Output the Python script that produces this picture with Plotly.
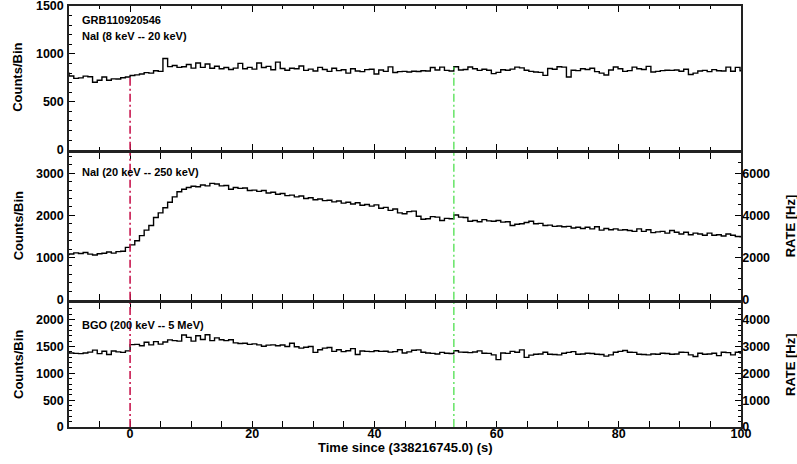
import numpy as np
import plotly.graph_objects as go

# ---------------- data ----------------
bin_width = 0.768          # s
first_bin_index = -14      # first bin starts at first_bin_index * bin_width
trigger_time = 0.0
end_time = 53.0
x_range = [-10, 100]
rate_factor = 2.0

grb_name = "GRB110920546"
label_nai_low = "NaI (8 keV -- 20 keV)"
label_nai_high = "NaI (20 keV -- 250 keV)"
label_bgo = "BGO (200 keV -- 5 MeV)"
x_title = "Time since (338216745.0) (s)"
y_title = "Counts/Bin"
rate_title = "RATE [Hz]"

nai_low = [
    800, 770, 745, 750, 768, 762, 705, 725, 760, 725, 740, 738, 752, 760,
    775, 782, 790, 805, 800, 825, 818, 952, 868, 880, 860, 866, 890, 852,
    905, 860, 895, 850, 872, 846, 858, 838, 852, 902, 845, 860, 842, 905,
    858, 870, 835, 915, 848, 830, 850, 845, 875, 828, 842, 822, 860, 838,
    818, 850, 826, 835, 800, 845, 822, 815, 836, 840, 790, 832, 818, 865,
    806, 815, 818, 812, 820, 816, 825, 822, 858, 832, 862, 828, 822, 866,
    832, 838, 864, 845, 828, 840, 830, 795, 808, 835, 830, 842, 862, 855,
    830, 818, 812, 808, 776, 848, 840, 866, 862, 760, 830, 826, 845, 838,
    850, 815, 800, 780, 832, 864, 845, 818, 826, 862, 845, 838, 870, 812,
    818, 826, 830, 828, 832, 820, 840, 785, 800, 822, 828, 815, 836, 825,
    822, 862, 820, 860, 825,
]

nai_high = [
    1070, 1085, 1110, 1095, 1120, 1080, 1060, 1090, 1100, 1130, 1105, 1140, 1150, 1240,
    1300, 1400, 1520, 1650, 1760, 1950, 2060, 2180, 2310, 2440, 2560, 2620, 2660, 2690,
    2680, 2720, 2700, 2760, 2745, 2700, 2710, 2620, 2660, 2640, 2650, 2590, 2600, 2570,
    2590, 2530, 2550, 2500, 2520, 2470, 2480, 2440, 2460, 2400, 2420, 2370, 2390, 2350,
    2360, 2320, 2340, 2290, 2310, 2270, 2300, 2240, 2260, 2220, 2250, 2170, 2190, 2120,
    2150, 2060, 2040, 2090, 2100, 1980, 1910, 1920, 1970, 1960, 1880, 1930, 1920, 2010,
    1960, 1950, 1860, 1880, 1850, 1900, 1870, 1860, 1880, 1840, 1850, 1760, 1790, 1800,
    1830, 1860, 1800, 1810, 1760, 1770, 1740, 1750, 1730, 1740, 1700, 1720, 1690, 1720,
    1680, 1730, 1650, 1690, 1660, 1680, 1650, 1660, 1640, 1620, 1680, 1620, 1660, 1590,
    1610, 1620, 1580, 1640, 1600, 1560, 1600, 1540, 1580, 1560, 1530, 1580, 1530, 1540,
    1510, 1560, 1530, 1500, 1490,
]

bgo = [
    1400, 1378, 1372, 1368, 1380, 1395, 1432, 1368, 1412, 1352, 1415, 1400, 1390, 1418,
    1535, 1540, 1515, 1580, 1530, 1590, 1545, 1585, 1624, 1610, 1600, 1715, 1670, 1600,
    1700, 1630, 1720, 1610, 1660, 1625, 1610, 1625, 1568, 1555, 1560, 1540, 1548, 1530,
    1505, 1525, 1530, 1515, 1528, 1500, 1560, 1495, 1470, 1485, 1500, 1390, 1440, 1470,
    1480, 1410, 1440, 1405, 1420, 1460, 1350, 1415, 1410, 1405, 1420, 1410, 1412, 1395,
    1405, 1440, 1378, 1400, 1430, 1437, 1394, 1380, 1372, 1360, 1390, 1375, 1370, 1420,
    1395, 1392, 1385, 1398, 1418, 1375, 1372, 1343, 1255, 1378, 1372, 1410, 1394, 1437,
    1298, 1340, 1356, 1360, 1394, 1356, 1350, 1343, 1375, 1390, 1405, 1356, 1360, 1375,
    1370, 1356, 1350, 1320, 1343, 1394, 1410, 1425, 1394, 1390, 1356, 1350, 1343, 1360,
    1356, 1375, 1370, 1356, 1360, 1394, 1390, 1343, 1313, 1375, 1356, 1360, 1375, 1330,
    1394, 1385, 1343, 1394, 1380,
]

nai_low_range = [0, 1501]
nai_high_range = [0, 3480]
bgo_range = [0, 2310]

# ---------------- helpers ----------------
FONT = "Liberation Sans, Arial, Helvetica, sans-serif"
RED = "#C8174F"
GREEN = "#3FDD3F"


def step_xy(values):
    edges = bin_width * np.arange(first_bin_index, first_bin_index + len(values) + 1)
    y = list(values) + [values[-1]]
    return edges, y


def value_at(values, t):
    idx = int(np.floor(t / bin_width)) - first_bin_index
    return values[idx]


fig = go.Figure()

panels = [
    ("x", "y", nai_low),
    ("x2", "y2", nai_high),
    ("x3", "y3", bgo),
]
for xa, ya, vals in panels:
    xs, ys = step_xy(vals)
    fig.add_trace(go.Scatter(x=xs, y=ys, xaxis=xa, yaxis=ya, mode="lines",
                             line=dict(color="black", width=1.4, shape="hv"),
                             hoverinfo="skip", showlegend=False))

# rate axes carriers (invisible)
for xa, ya, vals in [("x2", "y4", nai_high), ("x3", "y5", bgo)]:
    xs, ys = step_xy(vals)
    fig.add_trace(go.Scatter(x=xs, y=[v * rate_factor for v in ys], xaxis=xa, yaxis=ya,
                             mode="lines", line=dict(color="rgba(0,0,0,0)", width=0, shape="hv"),
                             hoverinfo="skip", showlegend=False))

# marker lines
dash = "8px,3px,2px,3px"
for t, col, w in [(trigger_time, RED, 1.6), (end_time, GREEN, 1.2)]:
    fig.add_shape(type="line", xref="x", yref="y", x0=t, x1=t, y0=0,
                  y1=value_at(nai_low, t), line=dict(color=col, width=w, dash=dash))
    for xa, ya in [("x2", "y2"), ("x3", "y3")]:
        fig.add_shape(type="line", xref=xa, yref=f"{ya} domain", x0=t, x1=t, y0=0, y1=1,
                      line=dict(color=col, width=w, dash=dash))

tickfont = dict(family=FONT, size=12.5, color="black", weight="bold")
titlefont = dict(family=FONT, size=13, color="black", weight="bold")

xcommon = dict(range=x_range, showgrid=False, zeroline=False, showline=True,
               linecolor="#222222", linewidth=1.5, mirror="allticks", automargin=False,
               ticks="inside", ticklen=6, tickwidth=1.2, tickcolor="black",
               tick0=0, dtick=20, ticklabelstandoff=-6, ticklabeloverflow="allow",
               minor=dict(ticks="inside", ticklen=3, dtick=5, tick0=0, tickcolor="black"),
               tickfont=tickfont)
ycommon = dict(showgrid=False, zeroline=False, showline=True, linecolor="#222222",
               linewidth=1.5, ticks="inside", ticklen=6, tickwidth=1.2, automargin=False,
               tickcolor="black", tickfont=tickfont, ticklabelstandoff=1,
               ticklabeloverflow="allow")
rcommon = dict(side="right", showgrid=False, zeroline=False, automargin=False,
               showline=True, linecolor="#222222", linewidth=1.5, ticks="inside", ticklen=6,
               tickwidth=1.2, tickcolor="black", tickfont=tickfont, ticklabelstandoff=-3,
               ticklabeloverflow="allow")

dom1 = [0.6587, 1.0]
dom2 = [0.3024, 0.6508]
dom3 = [0.0, 0.2945]

layout = dict(
    width=797, height=464,
    margin=dict(l=69, r=56, t=6, b=37),
    paper_bgcolor="white", plot_bgcolor="white",
    font=dict(family=FONT, color="black"),
    xaxis=dict(xcommon, anchor="y", domain=[0, 1], showticklabels=False, matches="x3"),
    xaxis2=dict(xcommon, anchor="y2", domain=[0, 1], showticklabels=False, matches="x3"),
    xaxis3=dict(xcommon, anchor="y3", domain=[0, 1], showticklabels=True),
    yaxis=dict(ycommon, domain=dom1, anchor="x", range=nai_low_range,
               tickmode="array", tickvals=[0, 500, 1000, 1500], mirror=True,
               minor=dict(ticks="inside", ticklen=3, dtick=100, tick0=0, tickcolor="black")),
    yaxis2=dict(ycommon, domain=dom2, anchor="x2", range=nai_high_range, dtick=1000,
                minor=dict(ticks="inside", ticklen=3, dtick=200, tickcolor="black")),
    yaxis3=dict(ycommon, domain=dom3, anchor="x3", range=bgo_range, dtick=500,
                minor=dict(ticks="inside", ticklen=3, dtick=100, tickcolor="black")),
    yaxis4=dict(rcommon, overlaying="y2", anchor="x2",
                range=[nai_high_range[0] * rate_factor, nai_high_range[1] * rate_factor],
                dtick=2000,
                minor=dict(ticks="inside", ticklen=3, dtick=500, tickcolor="black")),
    yaxis5=dict(rcommon, overlaying="y3", anchor="x3",
                range=[bgo_range[0] * rate_factor, bgo_range[1] * rate_factor],
                dtick=1000,
                minor=dict(ticks="inside", ticklen=3, dtick=200, tickcolor="black")),
)
fig.update_layout(**layout)

# axis titles placed as annotations (pixel-accurate)
plot_w = 797 - 69 - 56
def px_to_paper_x(px):
    return (px - 69) / plot_w

for yref in ["y domain", "y2 domain", "y3 domain"]:
    fig.add_annotation(text=y_title, xref="paper", yref=yref, x=px_to_paper_x(18), y=0.5,
                       xanchor="center", yanchor="middle", textangle=-90, showarrow=False,
                       font=titlefont)
for yref in ["y2 domain", "y3 domain"]:
    fig.add_annotation(text=rate_title, xref="paper", yref=yref, x=px_to_paper_x(790), y=0.5,
                       xanchor="center", yanchor="middle", textangle=-90, showarrow=False,
                       font=titlefont)
fig.add_annotation(text=x_title, xref="paper", yref="paper", x=0.5, y=-(447.5 - 427) / 421,
                   xanchor="center", yanchor="middle", showarrow=False, font=titlefont)

annfont = dict(family=FONT, size=11, color="black", weight="bold")
anns = [
    (grb_name, "y domain", 0.90),
    (label_nai_low, "y domain", 0.79),
    (label_nai_high, "y2 domain", 0.87),
    (label_bgo, "y3 domain", 0.82),
]
for text, yref, yy in anns:
    fig.add_annotation(text=text, xref="x domain", yref=yref, x=0.016, y=yy,
                       xanchor="left", yanchor="middle", showarrow=False, font=annfont)

fig.write_html("out.html", config={"displayModeBar": False},
               post_script="document.body.style.margin='0';")
